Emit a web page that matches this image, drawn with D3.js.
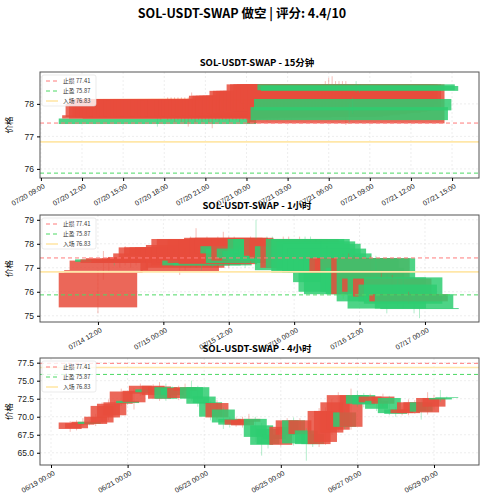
<!DOCTYPE html>
<html><head><meta charset="utf-8">
<script src="https://cdn.jsdelivr.net/npm/d3@7"></script>
<style>body{margin:0;background:#fff;font-family:"Noto Sans CJK SC","DejaVu Sans",sans-serif}</style>
</head><body><div id="chart"></div>
<script>
// Levels
const stopLoss = 77.41, takeProfit = 75.87, entry = 76.83;

// 15m candles, from 07/20 17:30
const open15 = [77.55,77.55,77.6,77.55,77.6,77.58,77.6,77.55,77.6,77.62,77.58,77.6,77.6,77.62,77.6,77.58,77.6,77.6,77.62,77.6,
  77.6,77.62,77.58,77.6,77.6,77.62,77.6,77.6,77.65,77.6,77.62,77.6,77.6,77.65,77.62,77.6,77.65,77.6,77.65,77.62,
  77.65,77.7,77.65,77.7,77.68,77.7,77.72,77.75,77.72,77.8,77.75,77.78,77.8,78.0,77.85,77.4,77.9,78.15,78.6,78.55];
const close15 = [77.38,77.65,78.0,78.15,78.15,78.12,78.15,78.15,78.1,78.15,78.15,78.12,78.15,78.15,78.1,78.15,78.15,78.12,78.15,78.15,
  78.15,78.12,78.15,78.15,78.1,78.15,78.15,78.15,78.12,78.15,78.15,78.15,78.12,78.15,78.15,78.15,78.12,78.15,78.25,78.25,
  78.25,78.25,78.25,78.25,78.4,78.4,78.4,78.4,78.4,78.6,78.6,78.6,78.6,78.6,78.6,78.6,77.5,77.8,78.42,78.4];
const high15 = [77.6,77.7,78.05,78.2,78.2,78.2,78.2,78.2,78.2,78.2,78.35,78.2,78.2,78.2,78.2,78.2,78.2,78.2,78.2,78.2,
  78.2,78.2,78.2,78.2,78.2,78.2,78.2,78.2,78.2,78.2,78.3,78.2,78.2,78.2,78.2,78.2,78.2,78.3,78.3,78.3,
  78.3,78.3,78.3,78.3,78.45,78.45,78.5,78.5,78.55,78.7,78.8,78.85,78.7,78.7,78.7,78.7,78.0,78.2,78.7,78.6];
const low15 = [77.3,77.5,77.55,77.5,77.5,77.45,77.5,77.45,77.4,77.3,77.5,77.4,77.5,77.45,77.5,77.4,77.25,77.5,77.45,77.5,
  77.5,77.45,77.5,77.5,77.45,77.5,77.5,77.45,77.55,77.5,77.5,77.5,77.45,77.5,77.5,77.5,77.55,77.5,77.55,77.5,
  77.55,77.6,77.55,77.6,77.6,77.6,77.65,77.7,77.65,77.7,77.7,77.7,77.75,77.9,77.8,77.35,77.4,77.7,78.35,78.35];

// 1h candles, from 07/14 12:00
const open1h = [75.35,76.8,76.9,77.35,77.2,77.3,77.2,77.3,77.3,77.3,77.3,77.4,77.5,77.6,77.5,76.85,77.0,77.1,77.2,77.3,
  77.2,77.2,77.15,77.2,77.2,77.6,77.9,77.8,77.3,77.8,77.7,78.2,78.2,77.9,77.5,77.4,77.9,77.0,78.2,78.2,
  78.1,78.0,77.8,77.6,77.3,77.4,76.8,76.9,77.4,77.0,75.9,77.4,76.0,76.6,75.8,76.3,76.6,75.6,75.9,75.32];
const close1h = [76.8,76.9,77.3,77.25,77.35,77.4,77.35,77.3,77.4,77.45,77.6,77.85,77.85,77.85,77.85,77.85,77.95,78.2,78.2,77.1,
  78.2,77.1,78.2,78.25,78.25,78.25,77.6,77.2,78.2,77.4,77.3,77.3,77.6,77.3,78.2,78.2,76.9,78.2,77.0,76.8,
  76.9,76.8,76.8,76.4,76.0,75.9,77.4,77.4,76.0,75.9,77.4,75.6,76.55,75.3,76.55,75.6,75.5,75.9,75.3,75.28];
const high1h = [76.9,77.7,77.4,77.4,77.5,77.9,77.5,77.4,77.6,77.5,77.7,77.9,77.95,77.9,77.9,77.9,78.0,78.3,78.65,77.3,
  78.3,77.3,78.3,78.5,78.3,78.3,78.0,77.9,78.3,79.0,77.8,78.3,78.3,78.0,78.3,78.3,78.0,78.3,78.3,78.3,
  78.2,78.1,77.9,77.7,77.5,77.6,77.6,77.5,77.5,77.2,77.5,77.5,76.8,76.7,76.7,76.5,76.7,76.0,76.0,75.35];
const low1h = [75.1,76.5,76.8,77.1,77.0,77.1,77.0,77.1,77.1,77.1,77.1,77.2,77.3,77.4,77.3,76.7,76.9,77.0,77.0,76.9,
  77.1,77.0,77.0,77.1,77.0,77.4,77.4,77.0,77.2,77.3,77.1,77.2,77.4,77.1,77.3,77.3,76.7,76.9,76.9,76.6,
  76.7,76.6,76.6,76.2,75.9,75.7,76.6,76.7,75.8,75.6,75.7,75.5,75.8,75.1,75.6,75.4,75.3,75.5,75.1,74.9];

// 4h candles, from 06/19 12:00
const open4h = [68.3,68.4,68.9,69.3,69.0,69.2,69.9,70.2,71.8,72.2,72.0,73.2,73.8,73.0,72.5,74.1,73.9,72.6,73.6,74.1,
  74.1,72.8,72.0,69.9,71.0,69.7,68.9,68.8,69.3,69.7,68.8,68.3,67.5,66.1,67.5,69.5,67.6,68.1,67.6,66.2,
  66.5,67.8,68.2,70.6,68.6,73.0,73.0,72.0,72.2,71.8,72.6,71.0,70.5,70.5,70.8,72.0,70.6,71.4,72.6,72.7];
const close4h = [69.2,69.1,69.3,69.0,70.0,71.5,71.8,72.0,73.5,71.9,73.6,74.3,73.4,74.3,74.2,72.5,73.0,74.0,74.1,72.5,
  71.8,71.9,70.0,71.9,69.2,68.9,69.6,69.5,69.7,67.2,66.1,66.2,66.9,68.6,69.5,66.3,69.5,66.2,66.2,70.8,
  70.8,72.0,73.0,68.6,73.0,71.8,71.7,72.8,71.1,72.8,70.5,70.4,71.0,72.0,72.0,70.7,72.6,72.6,72.4,72.6];
const high4h = [69.4,69.5,69.8,69.6,70.4,72.0,72.4,72.3,73.9,72.5,74.0,74.6,74.0,74.5,74.8,74.6,74.2,74.3,74.6,75.0,
  74.3,72.4,72.2,72.3,71.3,70.0,69.9,70.0,70.4,70.0,69.1,68.8,67.5,69.2,69.8,69.9,69.8,68.4,67.9,71.2,
  71.3,72.5,73.4,71.0,73.9,73.6,73.3,73.2,72.6,73.2,72.9,71.3,71.4,72.4,72.3,72.4,73.4,73.0,73.7,72.8];
const low4h = [67.9,68.1,68.6,68.8,68.7,69.0,69.5,69.9,71.5,71.6,71.0,72.9,73.1,72.6,72.2,72.2,72.7,72.3,73.3,72.2,
  71.4,71.5,69.5,69.5,68.3,68.5,68.6,68.5,69.0,66.5,64.6,65.6,66.5,65.9,67.2,66.0,67.3,63.9,65.8,65.8,
  66.1,67.5,67.9,68.3,68.2,71.4,71.3,71.6,70.8,71.4,70.2,70.0,70.2,70.2,70.4,69.6,70.3,71.0,72.1,72.4];

// panel settings
const panels = [
  {title: 'SOL-USDT-SWAP - 15分钟', o: open15, c: close15, h: high15, l: low15,
   start: '2025-07-20T17:30', stepMin: 15, xDom: ['2025-07-20T08:56', '2025-07-21T16:58'],
   ticks: d3.timeHour.every(3), yDom: [75.72, 78.98], yTicks: [76, 77, 78], yFmt: d3.format('d'), top: 72, bottom: 178},
  {title: 'SOL-USDT-SWAP - 1小时', o: open1h, c: close1h, h: high1h, l: low1h,
   start: '2025-07-14T12:00', stepMin: 60, xDom: ['2025-07-14T01:22', '2025-07-17T09:55'],
   ticks: d3.timeHour.every(12), yDom: [74.74, 79.2], yTicks: [75, 76, 77, 78, 79], yFmt: d3.format('d'), top: 215, bottom: 322},
  {title: 'SOL-USDT-SWAP - 4小时', o: open4h, c: close4h, h: high4h, l: low4h,
   start: '2025-06-19T12:00', stepMin: 240, xDom: ['2025-06-18T17:06', '2025-06-30T04:12'],
   ticks: d3.timeDay.every(2), yDom: [63.3, 78.15], yTicks: [65, 67.5, 70, 72.5, 75, 77.5], yFmt: d3.format('.1f'), top: 358, bottom: 465}
];

const W = 484, H = 500, left = 40, right = 479;
const red = '#e74c3c', green = '#2ecc71';
const svg = d3.select('#chart').append('svg').attr('width', W).attr('height', H);

svg.append('text').attr('x', W / 2).attr('y', 18).attr('text-anchor', 'middle')
  .style('font-size', '12.5px').style('font-weight', 'bold').text('SOL-USDT-SWAP 做空 | 评分: 4.4/10');

const fmt = d3.timeFormat('%m/%d %H:%M');

panels.forEach((p, k) => {
  const x = d3.scaleTime().domain(p.xDom.map(s => new Date(s))).range([left, right]);
  const y = d3.scaleLinear().domain(p.yDom).range([p.bottom, p.top]);
  const t0 = new Date(p.start);
  const data = p.o.map((o, i) => ({t: new Date(+t0 + i * p.stepMin * 60000), o, c: p.c[i], h: p.h[i], l: p.l[i]}));
  const halfW = 0.3 * 86400000; // body width 0.6 day
  const g = svg.append('g');

  const clipId = 'clip' + k;
  svg.append('clipPath').attr('id', clipId).append('rect')
    .attr('x', left).attr('y', p.top).attr('width', right - left).attr('height', p.bottom - p.top);

  // grid
  const tickVals = x.ticks(p.ticks);
  g.selectAll('.gx').data(tickVals).enter().append('line')
    .attr('x1', d => x(d)).attr('x2', d => x(d)).attr('y1', p.top).attr('y2', p.bottom)
    .attr('stroke', '#ddd').attr('stroke-dasharray', '2,2').attr('stroke-width', 0.5);
  g.selectAll('.gy').data(p.yTicks).enter().append('line')
    .attr('x1', left).attr('x2', right).attr('y1', d => y(d)).attr('y2', d => y(d))
    .attr('stroke', '#ddd').attr('stroke-dasharray', '2,2').attr('stroke-width', 0.5);

  const plot = g.append('g').attr('clip-path', `url(#${clipId})`);
  data.forEach(d => {
    const col = d.c >= d.o ? red : green;
    plot.append('line').attr('x1', x(d.t)).attr('x2', x(d.t)).attr('y1', y(d.h)).attr('y2', y(d.l))
      .attr('stroke', col).attr('stroke-opacity', 0.45).attr('stroke-width', 0.8);
    plot.append('rect').attr('x', x(new Date(+d.t - halfW))).attr('width', x(new Date(+d.t + halfW)) - x(new Date(+d.t - halfW)))
      .attr('y', y(Math.max(d.o, d.c))).attr('height', Math.max(0.6, Math.abs(y(d.o) - y(d.c))))
      .attr('fill', col).attr('fill-opacity', 0.85);
  });

  // level lines
  const levels = [
    {v: stopLoss, col: '#ff7b7b', dash: '4,3', w: 1, label: '止损 77.41'},
    {v: takeProfit, col: '#4cd964', dash: '4,3', w: 1, label: '止盈 75.87'},
    {v: entry, col: '#ffe7a8', dash: null, w: 1.6, label: '入场 76.83'}
  ];
  levels.forEach(L => {
    plot.append('line').attr('x1', left).attr('x2', right).attr('y1', y(L.v)).attr('y2', y(L.v))
      .attr('stroke', L.col).attr('stroke-width', L.w).attr('stroke-dasharray', L.dash);
  });

  // frame
  g.append('rect').attr('x', left).attr('y', p.top).attr('width', right - left).attr('height', p.bottom - p.top)
    .attr('fill', 'none').attr('stroke', '#555').attr('stroke-width', 1);

  // axes
  const ax = g.append('g').attr('transform', `translate(0,${p.bottom})`)
    .call(d3.axisBottom(x).tickValues(tickVals).tickFormat(fmt).tickSize(3));
  ax.select('.domain').remove();
  ax.selectAll('text').attr('transform', 'rotate(-30)').attr('text-anchor', 'end')
    .attr('dx', '-0.2em').attr('dy', '0.6em').style('font-size', '7px').style('fill', '#222');
  const ay = g.append('g').attr('transform', `translate(${left},0)`)
    .call(d3.axisLeft(y).tickValues(p.yTicks).tickFormat(p.yFmt).tickSize(3));
  ay.select('.domain').remove();
  ay.selectAll('text').style('font-size', '8.5px').style('fill', '#222');

  g.append('text').attr('x', 12).attr('y', (p.top + p.bottom) / 2).attr('text-anchor', 'middle')
    .attr('transform', `rotate(-90,12,${(p.top + p.bottom) / 2})`).style('font-size', '8.5px').text('价格');
  g.append('text').attr('x', W / 2 + 15).attr('y', p.top - 6).attr('text-anchor', 'middle')
    .style('font-size', '9.5px').style('font-weight', 'bold').text(p.title);

  // legend
  const lg = g.append('g').attr('transform', `translate(42,${p.top + 3})`);
  lg.append('rect').attr('width', 54).attr('height', 31).attr('rx', 2)
    .attr('fill', '#fff').attr('fill-opacity', 0.8).attr('stroke', '#ddd').attr('stroke-width', 0.6);
  levels.forEach((L, i) => {
    lg.append('line').attr('x1', 4).attr('x2', 16).attr('y1', 6 + i * 10).attr('y2', 6 + i * 10)
      .attr('stroke', L.col).attr('stroke-width', L.w).attr('stroke-dasharray', L.dash);
    lg.append('text').attr('x', 21).attr('y', 8.3 + i * 10).style('font-size', '5.8px').style('fill', '#333').text(L.label);
  });
});
</script></body></html>
